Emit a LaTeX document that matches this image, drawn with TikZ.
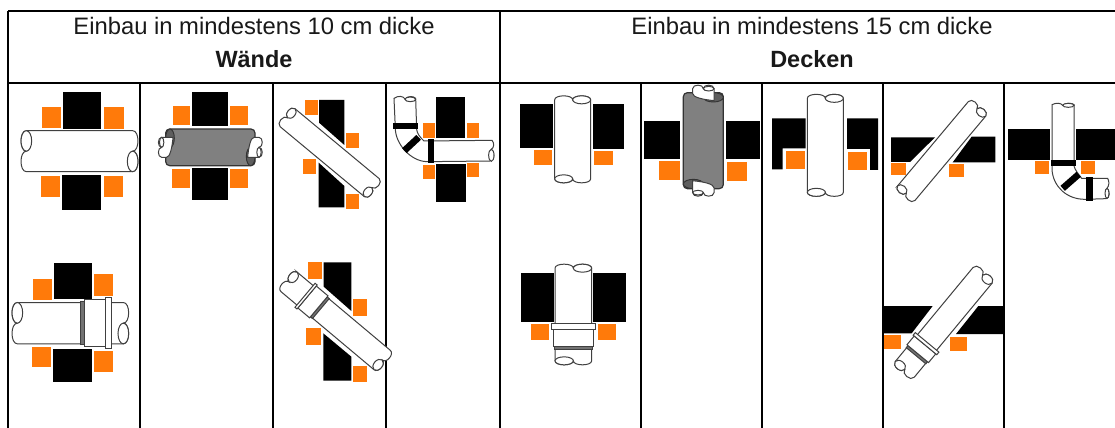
\documentclass[tikz,border=0pt]{standalone}
\usepackage{fontspec}
\setmainfont{Liberation Sans}
\definecolor{orangebox}{HTML}{FF7A0A}
\definecolor{pipeline}{HTML}{404040}
\definecolor{pipegrey}{HTML}{808080}
\definecolor{pipedark}{HTML}{5E5E5E}
\tikzset{
  rule/.style={line width=1.5pt,black},
  blk/.style={fill=black},
  org/.style={fill=orangebox},
  pipeout/.style={draw=pipeline,line width=0.75pt,fill=white},
  greybody/.style={draw=black!80,line width=0.9pt,fill=pipegrey,rounded corners=3pt},
  greyrim/.style={draw=black!80,line width=0.7pt,fill=pipedark},
  z/.style 2 args={shift={(#1,#2)},x=0.25pt,y=-0.25pt},
  head/.style={anchor=base,font=\fontsize{17.85}{20}\selectfont,text=black!90},
  headb/.style={anchor=base,font=\fontsize{17.6}{20}\selectfont\bfseries,text=black!90}
}
% pipe along local x: ellipse centres at +-L, half width h, ellipse half length a
\newcommand{\pipeshape}[3]{%
  \path[pipeout] ({-#1},{-#2}) -- ({#1},{-#2})
    .. controls ({#1+1.33*#3},{-#2}) and ({#1+1.33*#3},0) .. ({#1},0)
    .. controls ({#1+1.33*#3},0) and ({#1+1.33*#3},{#2}) .. ({#1},{#2})
    -- ({-#1},{#2})
    .. controls ({-#1-1.33*#3},{#2}) and ({-#1-1.33*#3},0) .. ({-#1},0)
    .. controls ({-#1-1.33*#3},0) and ({-#1-1.33*#3},{-#2}) .. cycle;
  \path[pipeout] ({#1},{#2/2}) ellipse [x radius=#3,y radius=#2/2];
  \path[pipeout] ({-#1},{-#2/2}) ellipse [x radius=#3,y radius=#2/2];
}
% coupling: dark band u1..u2, sleeve u2..u3, flange u3..u4; half heights h,h1,h2
\newcommand{\couplingshape}[7]{%
  \path[pipeout,fill=black!55] (#1,{-#5}) rectangle (#2,{#5});
  \path[pipeout] (#2,{-#6}) rectangle (#3,{#6});
  \path[pipeout] (#3,{-#7}) rectangle (#4,{#7});
}
% white tail seen at the end of a grey sleeve
\newcommand{\greyend}[5]{% L, h(unused), tl, tw, a
  \path[pipeout] ({-#1+1.7*#5},{-#4}) -- ({-#3},{-#4})
    .. controls ({-#3-#5},{-#4}) and ({-#3-#5},0) .. ({-#3},0)
    .. controls ({-#3-#5},0) and ({-#3-#5},{#4}) .. ({-#3},{#4})
    -- ({-#1+0.2*#5},{#4})
    .. controls ({-#1+#5},{#4}) and ({-#1+1.5*#5},0) .. cycle;
  \path[pipeout] ({-#3},{-#4/2}) ellipse [x radius=#5/2,y radius=#4/2];
}
\newcommand{\greypipe}[5]{% L,h,tl,tw,a
  \path[greybody] ({-#1},{-#2}) rectangle ({#1},{#2});
  \path[greyrim] ({#1-#5},{#2/2}) ellipse [x radius=#5,y radius=#2/2];
  \path[greyrim] ({-#1+#5},{-#2/2}) ellipse [x radius=#5,y radius=#2/2];
  \greyend{#1}{#2}{#3}{#4}{#5}
  \begin{scope}[rotate=180]\greyend{#1}{#2}{#3}{#4}{#5}\end{scope}
}
\begin{document}
\begin{tikzpicture}[x=0.75pt,y=-0.75pt]
\useasboundingbox (0,0) rectangle (1115,428);
\fill[white] (0,0) rectangle (1115,428);
% table rules
\draw[rule] (8,11) -- (1115,11);
\draw[rule] (8,83) -- (1115,83);
\draw[rule] (8,11) -- (8,428);
\draw[rule] (500,11) -- (500,428);
\foreach \xx in {140,273,386,641,762,883,1004} \draw[rule] (\xx,83) -- (\xx,428);
% header
\node[head]  (h1) at (254,35) {Einbau in mindestens 10 cm dicke};
\node[headb] (h2) at (254,68) {Wände};
\node[head]  (h3) at (812,35) {Einbau in mindestens 15 cm dicke};
\node[headb] (h4) at (812,68) {Decken};

% ---- row 1, cells 1 and 2
\begin{scope}[z={0}{80}]
  \fill[blk] (190,35) rectangle (304,147);
  \fill[blk] (187,285) rectangle (304,390);
  \fill[org] (125,82) rectangle (182,145);
  \fill[org] (313,82) rectangle (371,146);
  \fill[org] (123,288) rectangle (181,350);
  \fill[org] (311,288) rectangle (369,352);
  \begin{scope}[shift={(238.5,213.5)}]\pipeshape{159.5}{61.5}{16}\end{scope}
  \fill[blk] (577,35) rectangle (683,137);
  \fill[blk] (575,265) rectangle (683,360);
  \fill[org] (518,78) rectangle (571,136);
  \fill[org] (690,78) rectangle (744,136);
  \fill[org] (516,266) rectangle (570,325);
  \fill[org] (689,267) rectangle (743,325);
  \begin{scope}[shift={(631,202)}]\greypipe{134}{55}{146}{30}{13}\end{scope}
\end{scope}

% ---- row 1, cells 3 and 4
\begin{scope}[z={270}{80}]
  \fill[blk] (147,60) -- (223,60) -- (223,195) -- (147,128) -- cycle;
  \fill[blk] (146,248) -- (223,318) -- (223,382) -- (146,382) -- cycle;
  \fill[org] (105,60) rectangle (144,105);
  \fill[org] (228,160) rectangle (267,205);
  \fill[org] (100,238) rectangle (139,283);
  \fill[org] (228,342) rectangle (267,386);
  \begin{scope}[shift={(179,218)},rotate=-39.7]\pipeshape{164}{35}{12}\end{scope}
  \fill[blk] (497,50) rectangle (586,175);
  \fill[blk] (499,251) rectangle (588,366);
  \fill[org] (459,130) rectangle (496,173);
  \fill[org] (591,130) rectangle (628,173);
  \fill[org] (459,254) rectangle (496,296);
  \fill[org] (591,248) rectangle (628,290);
  \path[pipeout] (372,55) .. controls (385,46) and (400,48) .. (405,57)
    .. controls (415,47) and (430,48) .. (437,55) -- (440,148)
    .. controls (441,160) and (450,172) .. (462,183) -- (666,181)
    .. controls (674,190) and (672,203) .. (664,208)
    .. controls (674,215) and (676,240) .. (660,243) -- (470,245)
    .. controls (420,243) and (376,190) .. (376,145) -- cycle;
  \path[pipeout] (421,58) ellipse [x radius=16,y radius=7];
  \path[pipeout] (664,226) ellipse [x radius=8,y radius=18];
  \fill[blk] (370,130) rectangle (443,148);
  \draw[line width=5pt,black] (403,212) -- (446,172);
  \fill[blk] (473,178) rectangle (492,250);
\end{scope}

% ---- row 1, cells 5 and 6
\begin{scope}[z={500}{80}]
  \fill[blk] (60,73) rectangle (160,205);
  \fill[blk] (280,73) rectangle (373,207);
  \fill[org] (102,210) rectangle (157,255);
  \fill[org] (282,212) rectangle (338,256);
  \begin{scope}[shift={(218,178)},rotate=-90]\pipeshape{118.5}{54}{12}\end{scope}
  \fill[blk] (431,123) rectangle (541,237);
  \fill[blk] (678,123) rectangle (781,238);
  \fill[org] (478,243) rectangle (540,300);
  \fill[org] (680,246) rectangle (742,302);
  \begin{scope}[shift={(610,182)},rotate=-90]\greypipe{144}{60}{156}{32}{14}\end{scope}
\end{scope}

% ---- row 1, cells 7, 8 and 9
\begin{scope}[z={760}{80}]
  \fill[blk] (36,115) -- (137,115) -- (137,205) -- (68,205) -- (68,268) -- (36,268) -- cycle;
  \fill[blk] (261,115) -- (354,115) -- (354,270) -- (330,270) -- (330,207) -- (261,207) -- cycle;
  \fill[org] (78,214) rectangle (134,266);
  \fill[org] (264,217) rectangle (321,269);
  \begin{scope}[shift={(196,196)},rotate=-90]\pipeshape{141}{54}{12}\end{scope}
  \fill[blk] (393,172) -- (525,172) -- (450,246) -- (393,246) -- cycle;
  \fill[blk] (635,170) -- (706,170) -- (706,247) -- (578,247) -- cycle;
  \fill[org] (394,249) rectangle (437,286);
  \fill[org] (567,253) rectangle (611,291);
  \begin{scope}[shift={(545,213)},rotate=50]\pipeshape{165}{34}{12}\end{scope}
  \fill[blk] (743,148) rectangle (870,240);
  \fill[blk] (947,148) rectangle (1064,240);
  \fill[org] (824,243) rectangle (867,281);
  \fill[org] (963,243) rectangle (1006,281);
  \path[pipeout] (876,74) .. controls (888,68) and (902,68) .. (908,76)
    .. controls (918,68) and (935,68) .. (942,74) -- (942,258)
    .. controls (945,270) and (955,282) .. (965,295) -- (1043,295)
    .. controls (1049,305) and (1047,318) .. (1041,325)
    .. controls (1050,332) and (1050,356) .. (1038,356) -- (975,358)
    .. controls (920,358) and (880,320) .. (876,270) -- cycle;
  \path[pipeout] (925,76) ellipse [x radius=17,y radius=6];
  \path[pipeout] (1041,340) ellipse [x radius=6,y radius=15];
  \fill[blk] (873,241) rectangle (948,258);
  \draw[line width=5pt,black] (908,325) -- (956,283);
  \fill[blk] (978,290) rectangle (998,362);
\end{scope}

% ---- row 2, cell 1
\begin{scope}[z={0}{250}]
  \fill[blk] (163,40) rectangle (277,146);
  \fill[blk] (160,297) rectangle (277,397);
  \fill[org] (98,88) rectangle (155,151);
  \fill[org] (282,73) rectangle (340,137);
  \fill[org] (97,290) rectangle (154,352);
  \fill[org] (282,303) rectangle (340,365);
  \begin{scope}[shift={(211,219.5)}]
    \pipeshape{159}{62}{16}
    \couplingshape{31}{41}{105}{124}{64}{70}{76}
  \end{scope}
\end{scope}

% ---- row 2, cell 3
\begin{scope}[z={270}{250}]
  \fill[blk] (161,37) -- (244,37) -- (244,183) -- (161,110) -- cycle;
  \fill[blk] (160,250) -- (244,320) -- (244,392) -- (160,392) -- cycle;
  \fill[org] (114,37) rectangle (157,86);
  \fill[org] (250,148) rectangle (292,197);
  \fill[org] (109,235) rectangle (152,284);
  \fill[org] (250,349) rectangle (292,397);
  \begin{scope}[shift={(197,213)},rotate=-40]
    \pipeshape{182}{38}{13}
    \couplingshape{-58}{-66}{-112}{-120}{39}{43}{47}
  \end{scope}
\end{scope}

% ---- row 2, cell 5
\begin{scope}[z={510}{250}]
  \fill[blk] (33,68) rectangle (133,216);
  \fill[blk] (248,68) rectangle (349,216);
  \fill[org] (63,222) rectangle (118,271);
  \fill[org] (263,222) rectangle (319,271);
  \begin{scope}[shift={(190,193.5)},rotate=-90]
    \pipeshape{139}{55}{12}
    \couplingshape{104}{97}{44}{28}{57}{60}{66}
  \end{scope}
\end{scope}

% ---- row 2, cell 8
\begin{scope}[z={880}{250}]
  \fill[blk] (12,168) -- (158,168) -- (95,250) -- (12,250) -- cycle;
  \fill[blk] (295,168) -- (370,168) -- (370,252) -- (228,252) -- cycle;
  \fill[org] (12,255) rectangle (62,297);
  \fill[org] (210,260) rectangle (260,302);
  \begin{scope}[shift={(191,217)},rotate=50.4]
    \pipeshape{183}{37}{13}
    \couplingshape{-130}{-122}{-88}{-78}{38}{42}{46}
  \end{scope}
\end{scope}
\end{tikzpicture}
\end{document}
